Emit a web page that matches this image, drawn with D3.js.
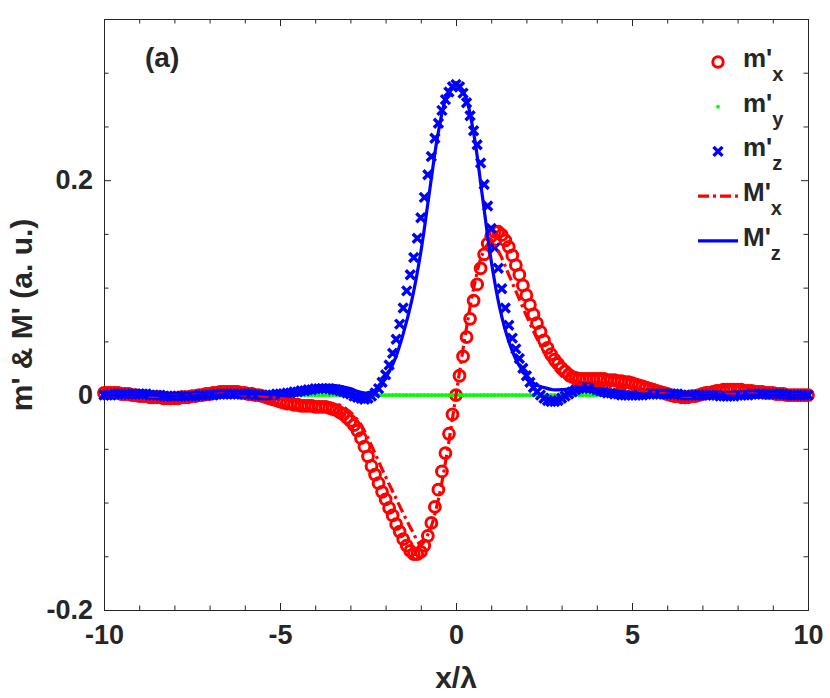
<!DOCTYPE html>
<html>
<head>
<meta charset="utf-8">
<script src="https://d3js.org/d3.v7.min.js"></script>
<style>
body { margin: 0; background: #fff; }
text { font-family: "Liberation Sans", Arial, sans-serif; font-weight: bold; fill: #262626; }
</style>
</head>
<body>
<script>
// sample positions of the simulated markers (x / lambda)
var xGrid = [-10,-9.9,-9.8,-9.7,-9.6,-9.5,-9.4,-9.3,-9.2,-9.1,
  -9,-8.9,-8.8,-8.7,-8.6,-8.5,-8.4,-8.3,-8.2,-8.1,
  -8,-7.9,-7.8,-7.7,-7.6,-7.5,-7.4,-7.3,-7.2,-7.1,
  -7,-6.9,-6.8,-6.7,-6.6,-6.5,-6.4,-6.3,-6.2,-6.1,
  -6,-5.9,-5.8,-5.7,-5.6,-5.5,-5.4,-5.3,-5.2,-5.1,
  -5,-4.9,-4.8,-4.7,-4.6,-4.5,-4.4,-4.3,-4.2,-4.1,
  -4,-3.9,-3.8,-3.7,-3.6,-3.5,-3.4,-3.3,-3.2,-3.1,
  -3,-2.9,-2.8,-2.7,-2.6,-2.5,-2.4,-2.3,-2.2,-2.1,
  -2,-1.9,-1.8,-1.7,-1.6,-1.5,-1.4,-1.3,-1.2,-1.1,
  -1,-0.9,-0.8,-0.7,-0.6,-0.5,-0.4,-0.3,-0.2,-0.1,
  0,
  0.1,0.2,0.3,0.4,0.5,0.6,0.7,0.8,0.9,1,
  1.1,1.2,1.3,1.4,1.5,1.6,1.7,1.8,1.9,2,
  2.1,2.2,2.3,2.4,2.5,2.6,2.7,2.8,2.9,3,
  3.1,3.2,3.3,3.4,3.5,3.6,3.7,3.8,3.9,4,
  4.1,4.2,4.3,4.4,4.5,4.6,4.7,4.8,4.9,5,
  5.1,5.2,5.3,5.4,5.5,5.6,5.7,5.8,5.9,6,
  6.1,6.2,6.3,6.4,6.5,6.6,6.7,6.8,6.9,7,
  7.1,7.2,7.3,7.4,7.5,7.6,7.7,7.8,7.9,8,
  8.1,8.2,8.3,8.4,8.5,8.6,8.7,8.8,8.9,9,
  9.1,9.2,9.3,9.4,9.5,9.6,9.7,9.8,9.9,10];

var mX = [0.002,0.002,0.002,0.002,0.002,0.001,0.001,0.001,0.000,0.000,
  -0.001,-0.001,-0.001,-0.002,-0.002,-0.002,-0.002,-0.003,-0.003,-0.003,
  -0.003,-0.003,-0.002,-0.002,-0.002,-0.001,-0.001,0.000,0.000,0.001,
  0.001,0.002,0.002,0.003,0.003,0.003,0.003,0.003,0.003,0.002,
  0.002,0.001,0.001,0.000,0.000,-0.001,-0.002,-0.003,-0.004,-0.005,
  -0.006,-0.007,-0.008,-0.008,-0.009,-0.009,-0.010,-0.010,-0.010,-0.010,
  -0.011,-0.011,-0.011,-0.011,-0.012,-0.013,-0.014,-0.016,-0.018,-0.021,
  -0.024,-0.028,-0.033,-0.040,-0.048,-0.057,-0.066,-0.074,-0.082,-0.090,
  -0.097,-0.105,-0.112,-0.120,-0.127,-0.134,-0.140,-0.145,-0.148,-0.148,
  -0.146,-0.140,-0.131,-0.119,-0.104,-0.088,-0.071,-0.054,-0.036,-0.018,
  0,
  0.018,0.036,0.054,0.071,0.088,0.103,0.118,0.131,0.141,0.148,
  0.152,0.152,0.149,0.144,0.138,0.130,0.121,0.112,0.102,0.093,
  0.084,0.075,0.067,0.059,0.051,0.044,0.038,0.033,0.029,0.025,
  0.022,0.019,0.017,0.016,0.015,0.015,0.015,0.015,0.015,0.015,
  0.015,0.015,0.014,0.014,0.014,0.013,0.013,0.012,0.012,0.011,
  0.010,0.009,0.008,0.007,0.006,0.005,0.004,0.003,0.002,0.001,
  0.000,-0.001,-0.001,-0.002,-0.002,-0.002,-0.001,-0.001,0.000,0.001,
  0.002,0.002,0.003,0.004,0.004,0.005,0.005,0.005,0.005,0.005,
  0.005,0.004,0.004,0.004,0.003,0.003,0.003,0.002,0.002,0.002,
  0.001,0.001,0.001,0.000,0.000,0.000,0.000,0.000,0.000,0.000];

var mY = [0,0,0,0,0,0,0,0,0,0, 0,0,0,0,0,0,0,0,0,0, 0,0,0,0,0,0,0,0,0,0,
  0,0,0,0,0,0,0,0,0,0, 0,0,0,0,0,0,0,0,0,0, 0,0,0,0,0,0,0,0,0,0,
  0,0,0,0,0,0,0,0,0,0, 0,0,0,0,0,0,0,0,0,0, 0,0,0,0,0,0,0,0,0,0,
  0,0,0,0,0,0,0,0,0,0, 0,
  0,0,0,0,0,0,0,0,0,0, 0,0,0,0,0,0,0,0,0,0, 0,0,0,0,0,0,0,0,0,0,
  0,0,0,0,0,0,0,0,0,0, 0,0,0,0,0,0,0,0,0,0, 0,0,0,0,0,0,0,0,0,0,
  0,0,0,0,0,0,0,0,0,0, 0,0,0,0,0,0,0,0,0,0, 0,0,0,0,0,0,0,0,0,0,
  0,0,0,0,0,0,0,0,0,0];

var mZ = [0.000,0.000,0.000,0.001,0.001,0.001,0.001,0.001,0.001,0.001,
  0.001,0.001,0.001,0.000,0.000,0.000,0.000,-0.001,-0.001,-0.001,
  -0.001,-0.001,-0.001,-0.001,-0.001,-0.001,-0.001,0.000,0.000,0.000,
  0.000,0.000,0.001,0.001,0.001,0.001,0.001,0.001,0.001,0.001,
  0.001,0.001,0.001,0.000,0.000,0.000,0.000,0.000,0.000,0.001,
  0.001,0.001,0.002,0.002,0.003,0.003,0.004,0.004,0.005,0.005,
  0.006,0.006,0.006,0.006,0.006,0.005,0.005,0.004,0.003,0.002,
  0.001,-0.001,-0.002,-0.003,-0.004,-0.003,-0.001,0.002,0.006,0.012,
  0.019,0.028,0.039,0.052,0.066,0.081,0.097,0.112,0.128,0.146,
  0.165,0.184,0.205,0.222,0.239,0.253,0.265,0.275,0.282,0.287,
  0.289,
  0.287,0.281,0.272,0.260,0.246,0.233,0.216,0.196,0.176,0.155,
  0.137,0.118,0.099,0.081,0.065,0.053,0.043,0.034,0.025,0.018,
  0.012,0.007,0.003,0.000,-0.003,-0.005,-0.006,-0.006,-0.005,-0.003,
  -0.001,0.001,0.003,0.005,0.006,0.007,0.007,0.006,0.006,0.005,
  0.004,0.003,0.002,0.002,0.001,0.001,0.000,0.000,0.000,0.000,
  0.000,0.000,0.000,0.001,0.001,0.001,0.001,0.001,0.001,0.001,
  0.001,0.001,0.001,0.000,0.000,0.000,0.000,0.000,0.000,0.000,
  0.000,0.000,0.000,0.000,-0.001,-0.001,-0.001,-0.001,-0.001,0.000,
  0.000,0.000,0.000,0.001,0.001,0.001,0.001,0.001,0.001,0.001,
  0.001,0.001,0.001,0.000,0.000,0.000,0.000,0.000,0.000,0.000];

// sample positions of the analytic curves
var lineGrid = [-10,-9.75,-9.5,-9.25,-9,-8.75,-8.5,-8.25,-8,-7.75,-7.5,-7.25,
  -7,-6.75,-6.5,-6.25,-6,-5.75,-5.5,-5.25,-5,-4.75,-4.5,-4.25,
  -4,-3.75,-3.5,-3.25,-3,-2.75,-2.5,-2.25,-2,-1.75,-1.5,-1.25,
  -1,-0.75,-0.5,-0.25,0,0.25,0.5,0.75,1,1.25,1.5,1.75,
  2,2.25,2.5,2.75,3,3.25,3.5,3.75,4,4.25,4.5,4.75,
  5,5.25,5.5,5.75,6,6.25,6.5,6.75,7,7.25,7.5,7.75,
  8,8.25,8.5,8.75,9,9.25,9.5,9.75,10];

var MX = [0.000,0.000,0.000,0.000, 0.000,-0.001,-0.001,-0.001,
  -0.001,-0.001,0.000,0.000, 0.000,0.001,0.001,0.001,
  0.000,0.000,-0.001,-0.002, -0.003,-0.004,-0.005,-0.006,
  -0.007,-0.007,-0.008,-0.010, -0.016,-0.025,-0.040,-0.058,
  -0.076,-0.093,-0.110,-0.126, -0.139,-0.126,-0.097,-0.053,
  0.000,
  0.053,0.099,0.131,0.143, 0.131,0.112,0.093,0.074,
  0.056,0.040,0.027,0.018, 0.012,0.010,0.009,0.009,
  0.008,0.007,0.006,0.005, 0.004,0.003,0.002,0.001,
  0.000,-0.001,-0.001,0.000, 0.000,0.001,0.001,0.001,
  0.001,0.001,0.000,0.000, 0.000,0.000,0.000,0.000];

var MZ = [0.000,0.000,0.000,0.000, 0.000,0.000,0.000,-0.001,
  -0.001,-0.001,-0.001,0.000, 0.000,0.000,0.001,0.001,
  0.001,0.001,0.001,0.001, 0.002,0.003,0.004,0.006,
  0.008,0.009,0.009,0.008, 0.006,0.003,0.002,0.006,
  0.016,0.032,0.057,0.089, 0.133,0.190,0.245,0.279,
  0.288,
  0.279,0.244,0.185,0.125, 0.080,0.050,0.030,0.018,
  0.010,0.007,0.005,0.005, 0.006,0.007,0.007,0.006,
  0.005,0.004,0.003,0.002, 0.001,0.001,0.000,0.000,
  0.000,0.000,0.000,0.000, 0.000,0.000,-0.001,-0.001,
  0.000,0.000,0.000,0.000, 0.000,0.000,0.000,0.000];

var xMajor = [-10,-5,0,5,10],
    xMinor = [-9,-8,-7,-6,-4,-3,-2,-1,1,2,3,4,6,7,8,9],
    yMajor = [-0.2,0,0.2],
    yMinor = [-0.15,-0.1,-0.05,0.05,0.1,0.15,0.25,0.3];

var legendNames = ["m'","m'","m'","M'","M'"],
    legendSubs = ["x","y","z","x","z"];

var red = "#ff0000", green = "#00ff00", blue = "#0000ff", ink = "#262626";

var margin = {top: 19, right: 22, bottom: 88, left: 104},
    width = 830 - margin.left - margin.right,
    height = 698 - margin.top - margin.bottom;

var root = d3.select("body").append("svg")
    .attr("width", 830)
    .attr("height", 698);

var svg = root.append("g")
    .attr("transform", "translate(" + margin.left + "," + margin.top + ")");

var x = d3.scaleLinear().domain([-10, 10]).range([0, width]);
var y = d3.scaleLinear().domain([-0.2, 0.35]).range([height, 0]);

function styleAxis(g) {
  g.attr("font-family", null).attr("font-size", null);
  g.select(".domain").attr("stroke", ink).attr("stroke-width", 1);
  g.selectAll(".tick line").attr("stroke", ink).attr("stroke-width", 1);
  g.selectAll(".tick text").style("font-size", "27px").attr("fill", ink);
}

// minor ticks, all four sides
svg.append("g").attr("transform", "translate(0," + height + ")")
    .call(d3.axisBottom(x).tickValues(xMinor).tickSize(-4.5).tickSizeOuter(0).tickFormat(""))
    .call(styleAxis);
svg.append("g")
    .call(d3.axisTop(x).tickValues(xMinor).tickSize(-4.5).tickSizeOuter(0).tickFormat(""))
    .call(styleAxis);
svg.append("g")
    .call(d3.axisLeft(y).tickValues(yMinor).tickSize(-4.5).tickSizeOuter(0).tickFormat(""))
    .call(styleAxis);
svg.append("g").attr("transform", "translate(" + width + ",0)")
    .call(d3.axisRight(y).tickValues(yMinor).tickSize(-4.5).tickSizeOuter(0).tickFormat(""))
    .call(styleAxis);

// major ticks
svg.append("g").attr("transform", "translate(0," + height + ")")
    .call(d3.axisBottom(x).tickValues(xMajor).tickSize(-7).tickSizeOuter(0).tickPadding(15)
      .tickFormat(function(d) { return String(d); }))
    .call(styleAxis);
svg.append("g")
    .call(d3.axisTop(x).tickValues(xMajor).tickSize(-7).tickSizeOuter(0).tickFormat(""))
    .call(styleAxis);
svg.append("g")
    .call(d3.axisLeft(y).tickValues(yMajor).tickSize(-7).tickSizeOuter(0).tickPadding(11)
      .tickFormat(function(d) { return String(d); }))
    .call(styleAxis);
svg.append("g").attr("transform", "translate(" + width + ",0)")
    .call(d3.axisRight(y).tickValues(yMajor).tickSize(-7).tickSizeOuter(0).tickFormat(""))
    .call(styleAxis);

// m'x : open red circles
svg.append("g").selectAll("circle")
    .data(mX)
    .enter().append("circle")
      .attr("cx", function(d, i) { return x(xGrid[i]); })
      .attr("cy", function(d) { return y(d); })
      .attr("r", 5.4)
      .attr("fill", "none")
      .attr("stroke", red)
      .attr("stroke-width", 3);

// m'y : green dots
svg.append("g").selectAll("circle")
    .data(mY)
    .enter().append("circle")
      .attr("cx", function(d, i) { return x(xGrid[i]); })
      .attr("cy", function(d) { return y(d); })
      .attr("r", 2.2)
      .attr("fill", green);

// m'z : blue crosses
var cross = "M-4.5,-4.5L4.5,4.5M-4.5,4.5L4.5,-4.5";
svg.append("g").selectAll("path")
    .data(mZ)
    .enter().append("path")
      .attr("transform", function(d, i) { return "translate(" + x(xGrid[i]) + "," + y(d) + ")"; })
      .attr("d", cross)
      .attr("stroke", blue)
      .attr("stroke-width", 3.4);

var line = d3.line()
    .x(function(d, i) { return x(lineGrid[i]); })
    .y(function(d) { return y(d); })
    .curve(d3.curveCatmullRom);

svg.append("path")
    .datum(MX)
    .attr("d", line)
    .attr("fill", "none")
    .attr("stroke", red)
    .attr("stroke-width", 3.2)
    .attr("stroke-dasharray", "11,4,3,4");

svg.append("path")
    .datum(MZ)
    .attr("d", line)
    .attr("fill", "none")
    .attr("stroke", blue)
    .attr("stroke-width", 3.2);

// legend
var legend = root.append("g");
var rows = legend.selectAll("g")
    .data(legendNames)
    .enter().append("g")
      .attr("transform", function(d, i) { return "translate(0," + (62 + i * 44.7) + ")"; });

rows.filter(function(d, i) { return i == 0; }).append("circle")
    .attr("cx", 718).attr("r", 5.2)
    .attr("fill", "none").attr("stroke", red).attr("stroke-width", 3);
rows.filter(function(d, i) { return i == 1; }).append("circle")
    .attr("cx", 718).attr("r", 1.9).attr("fill", green);
rows.filter(function(d, i) { return i == 2; }).append("path")
    .attr("transform", "translate(718,0)").attr("d", cross)
    .attr("stroke", blue).attr("stroke-width", 3.4);
rows.filter(function(d, i) { return i == 3; }).append("line")
    .attr("x1", 698).attr("x2", 738)
    .attr("stroke", red).attr("stroke-width", 3.2).attr("stroke-dasharray", "11,4,3,4");
rows.filter(function(d, i) { return i == 4; }).append("line")
    .attr("x1", 698).attr("x2", 738)
    .attr("stroke", blue).attr("stroke-width", 3.2);

var lt = rows.append("text")
    .attr("x", 743)
    .attr("y", 5)
    .style("font-size", "26px")
    .text(function(d) { return d; });
lt.append("tspan")
    .attr("dy", 14)
    .style("font-size", "20px")
    .text(function(d, i) { return legendSubs[i]; });

root.append("text")
    .attr("x", 145).attr("y", 67)
    .style("font-size", "28px")
    .text("(a)");

root.append("text")
    .attr("x", 456).attr("y", 688)
    .attr("text-anchor", "middle")
    .style("font-size", "30px")
    .text("x/\u03bb");

root.append("text")
    .attr("transform", "translate(32,315) rotate(-90)")
    .attr("text-anchor", "middle")
    .style("font-size", "30px")
    .text("m' & M' (a. u.)");
</script>
</body>
</html>
